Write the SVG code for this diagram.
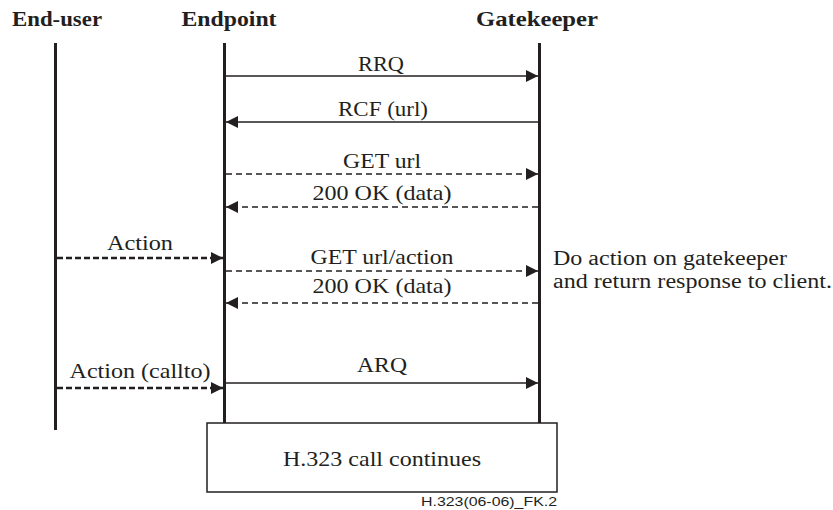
<svg xmlns="http://www.w3.org/2000/svg" width="833" height="510" viewBox="0 0 833 510">
<style>
.hd{font-family:'Liberation Serif','Times New Roman',Times,serif;font-weight:bold;font-size:22px;fill:#231f20}
.lb{font-family:'Liberation Serif','Times New Roman',Times,serif;font-size:21.5px;fill:#231f20}
.nt{font-family:'Liberation Serif','Times New Roman',Times,serif;font-size:20.5px;fill:#231f20}
.ft{font-family:'Liberation Sans',Arial,sans-serif;font-size:13.5px;fill:#231f20}
.life{stroke:#231f20;stroke-width:3;fill:none}
.msg{stroke:#231f20;stroke-width:1.3;fill:none}
.dash{stroke:#231f20;stroke-width:1.3;fill:none;stroke-dasharray:6 4}
.act{stroke:#231f20;stroke-width:2.5;fill:none;stroke-dasharray:6 3}
</style>
<defs>
<marker id="ah" markerUnits="userSpaceOnUse" markerWidth="13" markerHeight="12" refX="12" refY="6" orient="auto"><path d="M0,0 L12,6 L0,12 Z" fill="#231f20"/></marker>
</defs>
<rect width="833" height="510" fill="#ffffff"/>
<g id="enduser">
<text class="hd" x="57" y="26" text-anchor="middle" textLength="90" lengthAdjust="spacingAndGlyphs">End-user</text>
<line class="life" x1="55.5" y1="43" x2="55.5" y2="430"/>
</g>
<g id="endpoint">
<text class="hd" x="229" y="26" text-anchor="middle" textLength="95" lengthAdjust="spacingAndGlyphs">Endpoint</text>
<line class="life" x1="224.5" y1="43" x2="224.5" y2="423"/>
</g>
<g id="gatekeeper">
<text class="hd" x="537" y="26" text-anchor="middle" textLength="122" lengthAdjust="spacingAndGlyphs">Gatekeeper</text>
<line class="life" x1="539.5" y1="43" x2="539.5" y2="423"/>
</g>
<g id="note">
<text class="nt" x="553" y="265" textLength="234" lengthAdjust="spacingAndGlyphs">Do action on gatekeeper</text>
<text class="nt" x="553" y="288" textLength="279" lengthAdjust="spacingAndGlyphs">and return response to client.</text>
</g>
<g id="callbox">
<rect x="207" y="423" width="350" height="69" fill="#ffffff" stroke="#231f20" stroke-width="1.5"/>
<text class="lb" x="382" y="466" text-anchor="middle" textLength="198" lengthAdjust="spacingAndGlyphs">H.323 call continues</text>
</g>
<g id="connectors">
<line class="msg" x1="226" y1="76" x2="538" y2="76" marker-end="url(#ah)"/>
<text class="lb" x="381" y="71" text-anchor="middle" textLength="46" lengthAdjust="spacingAndGlyphs">RRQ</text>
<line class="msg" x1="538" y1="122" x2="226" y2="122" marker-end="url(#ah)"/>
<text class="lb" x="383" y="116" text-anchor="middle" textLength="90" lengthAdjust="spacingAndGlyphs">RCF (url)</text>
<line class="dash" x1="226" y1="174" x2="538" y2="174" marker-end="url(#ah)"/>
<text class="lb" x="382" y="168" text-anchor="middle" textLength="78" lengthAdjust="spacingAndGlyphs">GET url</text>
<line class="dash" x1="538" y1="207" x2="226" y2="207" marker-end="url(#ah)"/>
<text class="lb" x="382" y="200" text-anchor="middle" textLength="139" lengthAdjust="spacingAndGlyphs">200 OK (data)</text>
<line class="act" x1="57" y1="258" x2="223" y2="258" marker-end="url(#ah)"/>
<text class="lb" x="140" y="250" text-anchor="middle" textLength="66" lengthAdjust="spacingAndGlyphs">Action</text>
<line class="dash" x1="226" y1="271" x2="538" y2="271" marker-end="url(#ah)"/>
<text class="lb" x="382" y="264" text-anchor="middle" textLength="143" lengthAdjust="spacingAndGlyphs">GET url/action</text>
<line class="dash" x1="538" y1="303" x2="226" y2="303" marker-end="url(#ah)"/>
<text class="lb" x="382" y="293" text-anchor="middle" textLength="139" lengthAdjust="spacingAndGlyphs">200 OK (data)</text>
<line class="act" x1="57" y1="388" x2="223" y2="388" marker-end="url(#ah)"/>
<text class="lb" x="140" y="378" text-anchor="middle" textLength="141" lengthAdjust="spacingAndGlyphs">Action (callto)</text>
<line class="msg" x1="226" y1="383" x2="538" y2="383" marker-end="url(#ah)"/>
<text class="lb" x="382" y="372" text-anchor="middle" textLength="50" lengthAdjust="spacingAndGlyphs">ARQ</text>
</g>
<text class="ft" x="557" y="506" text-anchor="end" textLength="136" lengthAdjust="spacingAndGlyphs">H.323(06-06)_FK.2</text>
</svg>
